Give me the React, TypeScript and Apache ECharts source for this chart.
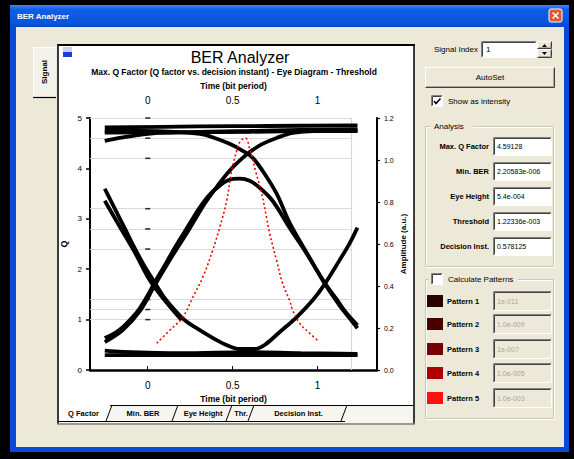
import React, { useEffect, useRef } from "react";
import * as echarts from "echarts";

// ---------------- DATA ----------------
const timeTickValues = [0, 0.5, 1];

// Q-factor curve (red dotted), left axis
const qTime = [0.053, 0.13, 0.206, 0.265, 0.324, 0.382, 0.424, 0.465, 0.494, 0.524, 0.547, 0.576, 0.6, 0.635, 0.671, 0.7, 0.718, 0.759, 0.794, 0.835, 0.853, 0.894, 0.953, 1.0];
const qValue = [0.53, 0.79, 1.05, 1.44, 1.84, 2.37, 2.83, 3.36, 3.95, 4.35, 4.55, 4.6, 4.39, 3.95, 3.5, 3.02, 2.71, 2.17, 1.72, 1.38, 1.19, 0.93, 0.73, 0.59];

// grey guide levels (left-axis units)
const guideLevels = [5, 4.6, 4.2, 3.2, 2.8, 2.4, 1.4, 1.2, 1.0];
const guideEndTime = 1.2;

// Eye-diagram traces: [time (bit period), amplitude (a.u.)]
const traceDip = [[-0.253, 0.863], [-0.194, 0.768], [-0.135, 0.674], [-0.076, 0.579], [-0.018, 0.493], [0.041, 0.417], [0.1, 0.342], [0.159, 0.285], [0.218, 0.237], [0.288, 0.199], [0.365, 0.161], [0.453, 0.123], [0.541, 0.1], [0.629, 0.1], [0.688, 0.119], [0.776, 0.18], [0.876, 0.251], [0.971, 0.332], [1.041, 0.408], [1.129, 0.522], [1.188, 0.602], [1.235, 0.678]];
const traceDipEcho = [[-0.253, 0.806], [-0.165, 0.683], [-0.076, 0.56], [0.012, 0.427], [0.1, 0.332], [0.2, 0.237]];
const traceHump = [[-0.253, 0.152], [-0.194, 0.176], [-0.147, 0.204], [-0.094, 0.247], [-0.047, 0.294], [0, 0.356], [0.041, 0.417], [0.1, 0.498], [0.147, 0.565], [0.2, 0.636], [0.247, 0.697], [0.306, 0.773], [0.365, 0.835], [0.424, 0.878], [0.482, 0.906], [0.541, 0.911], [0.6, 0.901], [0.659, 0.868], [0.735, 0.806], [0.835, 0.678], [0.935, 0.555], [1.041, 0.417], [1.112, 0.337], [1.171, 0.27], [1.235, 0.213]];
const traceRise = [[-0.253, 0.133], [-0.147, 0.19], [-0.047, 0.28], [0.041, 0.403], [0.147, 0.546], [0.247, 0.674], [0.335, 0.792], [0.412, 0.878], [0.482, 0.949], [0.559, 1.01], [0.618, 1.048], [0.676, 1.077], [0.759, 1.105], [0.853, 1.129], [0.982, 1.138], [1.129, 1.138], [1.235, 1.138]];
const traceFall = [[-0.253, 1.138], [-0.047, 1.138], [0.159, 1.134], [0.306, 1.124], [0.394, 1.105], [0.482, 1.077], [0.559, 1.044], [0.618, 1.01], [0.676, 0.949], [0.759, 0.84], [0.835, 0.702], [0.935, 0.56], [1.041, 0.413], [1.129, 0.308], [1.188, 0.247], [1.235, 0.199]];
const traceRailDip = [[-0.253, 1.091], [-0.165, 1.105], [-0.047, 1.12], [0.071, 1.129], [0.3, 1.134], [0.6, 1.138], [0.9, 1.143], [1.235, 1.147]];
const railHighA = [[-0.253, 1.155], [0.3, 1.16], [0.7, 1.162], [1.235, 1.165]];
const railHighB = [[-0.253, 1.13], [0.4, 1.133], [0.8, 1.136], [1.235, 1.14]];
const railLowA = [[-0.253, 0.071], [0.5, 0.071], [1.235, 0.071]];
const railLowB = [[-0.253, 0.092], [-0.15, 0.086], [0.2, 0.08], [0.6, 0.085], [0.9, 0.08], [1.235, 0.077]];

// Side panel
const analysisLabels = ["Max. Q Factor", "Min. BER", "Eye Height", "Threshold", "Decision Inst."];
const analysisValues = ["4.59128", "2.20583e-006", "5.4e-004", "1.22336e-003", "0.578125"];
const patternLabels = ["Pattern 1", "Pattern 2", "Pattern 3", "Pattern 4", "Pattern 5"];
const patternColors = ["#2B0000", "#4A0000", "#780000", "#AE0000", "#FF1010"];
const patternValues = ["1e-011", "1.0e-009", "1e-007", "1.0e-005", "1.0e-003"];
const tabLabels = ["Q Factor", "Min. BER", "Eye Height", "Thr.", "Decision Inst."];

// ---------------- HELPERS ----------------
const FONT = '"Liberation Sans", Arial, sans-serif';
const BEIGE = "#ECE9D8";

function rect(x: number, y: number, w: number, h: number, fill: any, extra: any = {}) {
  return { type: "rect", silent: true, shape: { x, y, width: w, height: h }, style: { fill, ...extra } };
}
function line(x1: number, y1: number, x2: number, y2: number, stroke: string, w = 1) {
  return { type: "line", silent: true, shape: { x1, y1, x2, y2 }, style: { stroke, lineWidth: w } };
}
function text(x: number, y: number, t: string, font: string, fill = "#000", align = "left", extra: any = {}) {
  return { type: "text", silent: true, x, y, style: { text: t, font, fill, textAlign: align, textVerticalAlign: "middle" }, ...extra };
}
function sunken(x: number, y: number, w: number, h: number, fill: string) {
  return [
    rect(x, y, w, h, fill),
    line(x + 0.5, y + 0.5, x + w - 0.5, y + 0.5, "#808080"),
    line(x + 0.5, y + 0.5, x + 0.5, y + h - 0.5, "#808080"),
    line(x + 1.5, y + 1.5, x + w - 1.5, y + 1.5, "#404040"),
    line(x + 1.5, y + 1.5, x + 1.5, y + h - 1.5, "#404040"),
    line(x + 0.5, y + h - 0.5, x + w - 0.5, y + h - 0.5, "#FFFFFF"),
    line(x + w - 0.5, y + 0.5, x + w - 0.5, y + h - 0.5, "#FFFFFF"),
  ];
}
function raised(x: number, y: number, w: number, h: number) {
  return [
    rect(x, y, w, h, BEIGE),
    line(x + 0.5, y + 0.5, x + w - 1, y + 0.5, "#FFFFFF"),
    line(x + 0.5, y + 0.5, x + 0.5, y + h - 1, "#FFFFFF"),
    line(x + 0.5, y + h - 0.5, x + w - 0.5, y + h - 0.5, "#404040"),
    line(x + w - 0.5, y + 0.5, x + w - 0.5, y + h - 0.5, "#404040"),
    line(x + 1.5, y + h - 1.5, x + w - 1.5, y + h - 1.5, "#ACA899"),
    line(x + w - 1.5, y + 1.5, x + w - 1.5, y + h - 1.5, "#ACA899"),
  ];
}
function groupBox(x: number, y: number, w: number, h: number) {
  return [
    { type: "rect", silent: true, shape: { x: x + 1.5, y: y + 1.5, width: w, height: h }, style: { fill: "none", stroke: "#FFFFFF", lineWidth: 1 } },
    { type: "rect", silent: true, shape: { x: x + 0.5, y: y + 0.5, width: w, height: h }, style: { fill: "none", stroke: "#C8C6B4", lineWidth: 1 } },
  ];
}
function checkbox(x: number, y: number, checked: boolean) {
  const els: any[] = sunken(x, y, 12, 12, "#FFFFFF");
  if (checked) {
    els.push({ type: "polyline", silent: true, shape: { points: [[x + 3, y + 6], [x + 5, y + 8.5], [x + 9.5, y + 3.5]] }, style: { stroke: "#000", lineWidth: 1.7, fill: "none" } });
  }
  return els;
}

function buildGraphics() {
  const els: any[] = [];
  // window frame
  els.push(rect(0, 0, 574, 459, "#000000"));
  els.push(rect(10, 5, 559, 447, "#0A4AD6"));
  els.push(rect(10, 5, 559, 22, new echarts.graphic.LinearGradient(0, 0, 0, 1, [
    { offset: 0, color: "#3A8CF6" }, { offset: 0.2, color: "#0E5FE6" }, { offset: 0.85, color: "#0A53DA" }, { offset: 1, color: "#0846C8" },
  ])));
  els.push(rect(16, 27, 548, 420, BEIGE));
  els.push(text(17, 16, "BER Analyzer", `bold 8px ${FONT}`, "#FFFFFF"));
  els.push({ type: "rect", silent: true, shape: { x: 549, y: 9, width: 13, height: 13, r: 2 }, style: { fill: "#E2582E", stroke: "#FFFFFF", lineWidth: 1 } });
  els.push(line(552.5, 12.5, 558.5, 18.5, "#FFFFFF", 1.6));
  els.push(line(558.5, 12.5, 552.5, 18.5, "#FFFFFF", 1.6));

  // vertical "Signal" tab
  els.push(rect(33, 47, 23, 50, "#F3F2EA"));
  els.push(line(33.5, 47, 33.5, 97, "#FFFFFF"));
  els.push(line(33, 47.5, 56, 47.5, "#FFFFFF"));
  els.push(line(33, 97.5, 56, 97.5, "#000000", 1.2));
  els.push(text(44, 72, "Signal", `bold 8px ${FONT}`, "#000", "center", { rotation: Math.PI / 2 }));

  // plot panel
  els.push(rect(58, 45, 356, 360, "#FFFFFF"));
  els.push(rect(58, 405, 356, 18, "#F6F5EF"));
  const tabEdges = [57, 110, 176, 230, 252, 345];
  els.push({ type: "polygon", silent: true, shape: { points: [[58, 405], [58, 421], [106, 421], [112, 405]] }, style: { fill: "#FFFFFF" } });
  els.push(line(57, 45, 415, 45, "#000000", 2));
  els.push(line(58, 45, 58, 424, "#3A3A3A", 2));
  els.push(line(414, 45, 414, 424, "#000000", 1.5));
  els.push(line(57, 424, 415, 424, "#808080", 1.5));
  els.push(line(110, 405.5, 413, 405.5, "#000000", 1));
  els.push(line(58, 421.5, 345, 421.5, "#000000", 1));
  for (let i = 1; i < tabEdges.length; i++) {
    const b = tabEdges[i];
    els.push(line(b - 4, 421, b + 2, 405, "#000000", 1));
  }
  tabLabels.forEach((lab, i) => {
    const cx = (tabEdges[i] + tabEdges[i + 1]) / 2;
    els.push(text(cx, 413.5, lab, `bold 7.5px ${FONT}`, "#000", "center"));
  });
  // small print icon
  els.push(rect(63, 47, 9, 5, "#C8D0F4"));
  els.push(rect(63, 52, 9, 5, "#1A3CE0"));

  // titles
  els.push(text(240, 57, "BER Analyzer", `16px ${FONT}`, "#000", "center"));
  els.push(text(234, 72, "Max. Q Factor (Q factor vs. decision instant) - Eye Diagram - Threshold", `bold 8.5px ${FONT}`, "#000", "center"));

  // right panel
  els.push(text(478, 49.5, "Signal Index", `8px ${FONT}`, "#000", "right"));
  els.push(...sunken(481, 41, 56, 17, "#FFFFFF"));
  els.push(text(486, 49.5, "1", `8px ${FONT}`));
  els.push(...raised(537, 41, 15, 8));
  els.push(...raised(537, 49, 15, 9));
  els.push({ type: "polygon", silent: true, shape: { points: [[542, 47], [547, 47], [544.5, 44]] }, style: { fill: "#000" } });
  els.push({ type: "polygon", silent: true, shape: { points: [[542, 52], [547, 52], [544.5, 55]] }, style: { fill: "#000" } });

  els.push(...raised(425, 67, 130, 21));
  els.push(text(490, 77.5, "AutoSet", `8px ${FONT}`, "#000", "center"));

  els.push(...checkbox(431, 95, true));
  els.push(text(448, 101, "Show as intensity", `8px ${FONT}`));

  els.push(...groupBox(425, 126, 128, 140));
  els.push(rect(431, 120, 42, 12, BEIGE));
  els.push(text(434, 126, "Analysis", `8px ${FONT}`));
  const boxTops = [137, 162, 187, 212, 237];
  analysisLabels.forEach((lab, i) => {
    const top = boxTops[i];
    els.push(text(489, top + 9.5, lab, `bold 7.5px ${FONT}`, "#000", "right"));
    els.push(...sunken(493, top, 59, 19, "#FFFFFF"));
    els.push(text(497, top + 9.5, analysisValues[i], `7px ${FONT}`));
  });

  els.push(...groupBox(425, 279, 128, 139));
  els.push(rect(428, 272, 90, 14, BEIGE));
  els.push(...checkbox(431, 273, false));
  els.push(text(448, 279, "Calculate Patterns", `8px ${FONT}`));
  const patCenters = [301, 324, 349, 373, 398];
  patternLabels.forEach((lab, i) => {
    const c = patCenters[i];
    els.push(rect(427, c - 6, 16, 12, patternColors[i]));
    els.push(text(447, c, lab, `bold 7.5px ${FONT}`));
    els.push(...sunken(493, c - 10, 59, 20, BEIGE));
    els.push(text(497, c, patternValues[i], `7px ${FONT}`, "#ACA899"));
  });

  return els.map((e) => ({ ...e, z: -10 }));
}

function buildOption() {
  const eyeTraces = [railLowA, railLowB, railHighA, railHighB, traceRailDip, traceDip, traceDipEcho, traceHump, traceRise, traceFall];
  const xBase = { type: "value", min: -0.34, max: 1.35, splitLine: { show: false } };
  return {
    animation: false,
    graphic: { z: -10, elements: buildGraphics() },
    grid: { left: 90, right: 197, top: 118, bottom: 89 },
    xAxis: [
      {
        ...xBase,
        position: "bottom",
        name: "Time (bit period)",
        nameLocation: "middle",
        nameGap: 22,
        nameTextStyle: { fontFamily: FONT, fontSize: 8.5, fontWeight: "bold", color: "#000" },
        axisLine: { show: true, onZero: false, lineStyle: { color: "#000", width: 2.5 } },
        axisTick: { show: true, inside: true, length: 4, customValues: timeTickValues, lineStyle: { color: "#000" } },
        axisLabel: { customValues: timeTickValues, fontFamily: FONT, fontSize: 10, color: "#000", margin: 10 },
      },
      {
        ...xBase,
        position: "top",
        name: "Time (bit period)",
        nameLocation: "middle",
        nameGap: 27,
        nameTextStyle: { fontFamily: FONT, fontSize: 8.5, fontWeight: "bold", color: "#000" },
        axisLine: { show: false },
        axisTick: { show: false },
        axisLabel: { customValues: timeTickValues, fontFamily: FONT, fontSize: 10, color: "#000", margin: 13 },
      },
    ],
    yAxis: [
      {
        type: "value",
        position: "left",
        min: 0,
        max: 5,
        interval: 1,
        name: "Q",
        nameLocation: "middle",
        nameGap: 22,
        nameRotate: 90,
        nameTextStyle: { fontFamily: FONT, fontSize: 9, fontWeight: "bold", color: "#000" },
        axisLine: { show: true, onZero: false, lineStyle: { color: "#000", width: 2 } },
        axisTick: { show: true, length: 4, lineStyle: { color: "#000", width: 1.5 } },
        axisLabel: { fontFamily: FONT, fontSize: 8, color: "#000", margin: 8 },
        splitLine: { show: false },
      },
      {
        type: "value",
        position: "right",
        min: 0,
        max: 1.2,
        interval: 0.2,
        name: "Amplitude (a.u.)",
        nameLocation: "middle",
        nameGap: 22,
        nameRotate: 90,
        nameTextStyle: { fontFamily: FONT, fontSize: 8, fontWeight: "bold", color: "#000" },
        axisLine: { show: true, onZero: false, lineStyle: { color: "#000", width: 2 } },
        axisTick: { show: true, length: 3, lineStyle: { color: "#000", width: 1.2 } },
        axisLabel: { fontFamily: FONT, fontSize: 7, color: "#000", margin: 7, formatter: (v: number) => v.toFixed(1) },
        splitLine: { show: false },
      },
    ],
    series: [
      {
        type: "scatter",
        xAxisIndex: 0,
        yAxisIndex: 0,
        silent: true,
        z: 2,
        symbol: "rect",
        symbolSize: [5, 1.6],
        itemStyle: { color: "#000" },
        data: guideLevels.map((l) => [0, l]),
        markLine: {
          silent: true,
          z: 1,
          symbol: ["none", "none"],
          label: { show: false },
          lineStyle: { color: "#D9D9D9", width: 1.2, type: "solid" },
          data: [
            ...guideLevels.map((l) => [{ coord: [-0.34, l] }, { coord: [guideEndTime, l] }]),
            [{ coord: [guideEndTime, 0] }, { coord: [guideEndTime, 5] }],
          ],
        },
      },
      ...eyeTraces.map((d) => ({
        type: "line",
        xAxisIndex: 0,
        yAxisIndex: 1,
        data: d,
        showSymbol: false,
        smooth: 0.35,
        silent: true,
        z: 6,
        lineStyle: { color: "#000", width: 3.8 },
      })),
      {
        type: "line",
        xAxisIndex: 0,
        yAxisIndex: 0,
        data: qTime.map((t, i) => [t, qValue[i]]),
        showSymbol: false,
        smooth: 0.4,
        silent: true,
        z: 7,
        lineStyle: { color: "#FF0000", width: 1.6, type: [2, 2.5] },
      },
    ],
  };
}

export default function App() {
  const ref = useRef<HTMLDivElement>(null);
  useEffect(() => {
    const chart = echarts.init(ref.current as HTMLDivElement, null, { renderer: "svg" });
    chart.setOption(buildOption() as any);
    return () => chart.dispose();
  }, []);
  return <div ref={ref} style={{ position: "absolute", left: 0, top: 0, width: 574, height: 459 }} />;
}
